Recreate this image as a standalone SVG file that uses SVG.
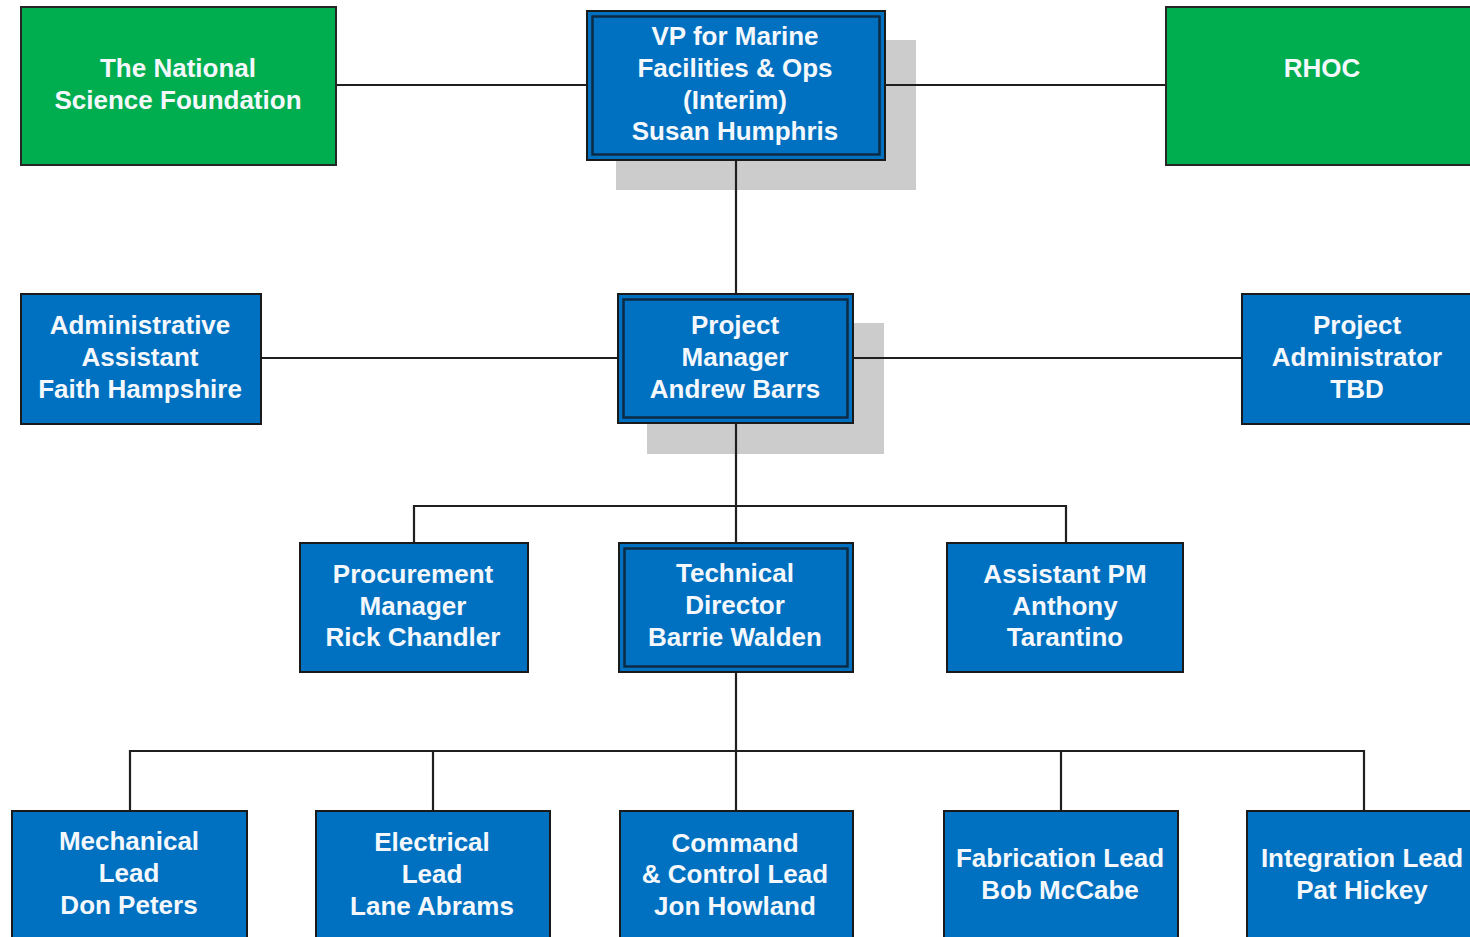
<svg xmlns="http://www.w3.org/2000/svg" width="1470" height="937" viewBox="0 0 1470 937">
<style>
.bg{fill:#ffffff}
.green{fill:#00AE4F;stroke:#262626;stroke-width:2}
.blue{fill:#0070C0;stroke:#1a1a1a;stroke-width:2}
.inner{fill:none;stroke:#0d2a44;stroke-width:2.5}
.shadow{fill:#CCCCCC}
.t{font-family:"Liberation Sans",Arial,sans-serif;font-weight:bold;font-size:26px;fill:#F4F8FC;text-anchor:middle}
.c{fill:none;stroke:#1f1f1f;stroke-width:2.2}
</style>
<rect class="bg" x="0" y="0" width="1470" height="937"/>
<g id="shadows">
<rect class="shadow" x="616" y="40" width="300" height="150"/>
<rect class="shadow" x="647" y="323" width="237" height="131"/>
</g>
<g id="connectors">
<line class="c" x1="336" y1="85" x2="587" y2="85"/>
<line class="c" x1="885" y1="85" x2="1166" y2="85"/>
<line class="c" x1="736" y1="160" x2="736" y2="294"/>
<line class="c" x1="261" y1="358" x2="618" y2="358"/>
<line class="c" x1="853" y1="358" x2="1242" y2="358"/>
<line class="c" x1="736" y1="423" x2="736" y2="543"/>
<polyline class="c" points="414,543 414,506 1066,506 1066,543"/>
<line class="c" x1="736" y1="672" x2="736" y2="811"/>
<polyline class="c" points="130,811 130,751 1364,751 1364,811"/>
<line class="c" x1="433" y1="751" x2="433" y2="811"/>
<line class="c" x1="1061" y1="751" x2="1061" y2="811"/>
</g>
<g id="nsf">
<rect class="green" x="21" y="7" width="315" height="158"/>
<text class="t" x="178" y="77">The National</text>
<text class="t" x="178" y="109">Science Foundation</text>
</g>
<g id="rhoc">
<rect class="green" x="1166" y="7" width="310" height="158"/>
<text class="t" x="1322" y="77">RHOC</text>
</g>
<g id="vp">
<rect class="blue" x="587" y="11" width="298" height="149"/>
<rect class="inner" x="592.5" y="16.5" width="287" height="138"/>
<text class="t" x="735" y="45">VP for Marine</text>
<text class="t" x="735" y="77">Facilities &amp; Ops</text>
<text class="t" x="735" y="109">(Interim)</text>
<text class="t" x="735" y="140">Susan Humphris</text>
</g>
<g id="admin-assistant">
<rect class="blue" x="21" y="294" width="240" height="130"/>
<text class="t" x="140" y="334">Administrative</text>
<text class="t" x="140" y="366">Assistant</text>
<text class="t" x="140" y="398">Faith Hampshire</text>
</g>
<g id="pm">
<rect class="blue" x="618" y="294" width="235" height="129"/>
<rect class="inner" x="623.5" y="299.5" width="224" height="118"/>
<text class="t" x="735" y="334">Project</text>
<text class="t" x="735" y="366">Manager</text>
<text class="t" x="735" y="398">Andrew Barrs</text>
</g>
<g id="project-admin">
<rect class="blue" x="1242" y="294" width="234" height="130"/>
<text class="t" x="1357" y="334">Project</text>
<text class="t" x="1357" y="366">Administrator</text>
<text class="t" x="1357" y="398">TBD</text>
</g>
<g id="procurement">
<rect class="blue" x="300" y="543" width="228" height="129"/>
<text class="t" x="413" y="583">Procurement</text>
<text class="t" x="413" y="615">Manager</text>
<text class="t" x="413" y="646">Rick Chandler</text>
</g>
<g id="technical-director">
<rect class="blue" x="619" y="543" width="234" height="129"/>
<rect class="inner" x="624.5" y="548.5" width="223" height="118"/>
<text class="t" x="735" y="582">Technical</text>
<text class="t" x="735" y="614">Director</text>
<text class="t" x="735" y="646">Barrie Walden</text>
</g>
<g id="assistant-pm">
<rect class="blue" x="947" y="543" width="236" height="129"/>
<text class="t" x="1065" y="583">Assistant PM</text>
<text class="t" x="1065" y="615">Anthony</text>
<text class="t" x="1065" y="646">Tarantino</text>
</g>
<g id="mechanical">
<rect class="blue" x="12" y="811" width="235" height="140"/>
<text class="t" x="129" y="850">Mechanical</text>
<text class="t" x="129" y="882">Lead</text>
<text class="t" x="129" y="914">Don Peters</text>
</g>
<g id="electrical">
<rect class="blue" x="316" y="811" width="234" height="140"/>
<text class="t" x="432" y="851">Electrical</text>
<text class="t" x="432" y="883">Lead</text>
<text class="t" x="432" y="915">Lane Abrams</text>
</g>
<g id="command">
<rect class="blue" x="620" y="811" width="233" height="140"/>
<text class="t" x="735" y="852">Command</text>
<text class="t" x="735" y="883">&amp; Control Lead</text>
<text class="t" x="735" y="915">Jon Howland</text>
</g>
<g id="fabrication">
<rect class="blue" x="944" y="811" width="234" height="140"/>
<text class="t" x="1060" y="867">Fabrication Lead</text>
<text class="t" x="1060" y="899">Bob McCabe</text>
</g>
<g id="integration">
<rect class="blue" x="1247" y="811" width="235" height="140"/>
<text class="t" x="1362" y="867">Integration Lead</text>
<text class="t" x="1362" y="899">Pat Hickey</text>
</g>
</svg>
